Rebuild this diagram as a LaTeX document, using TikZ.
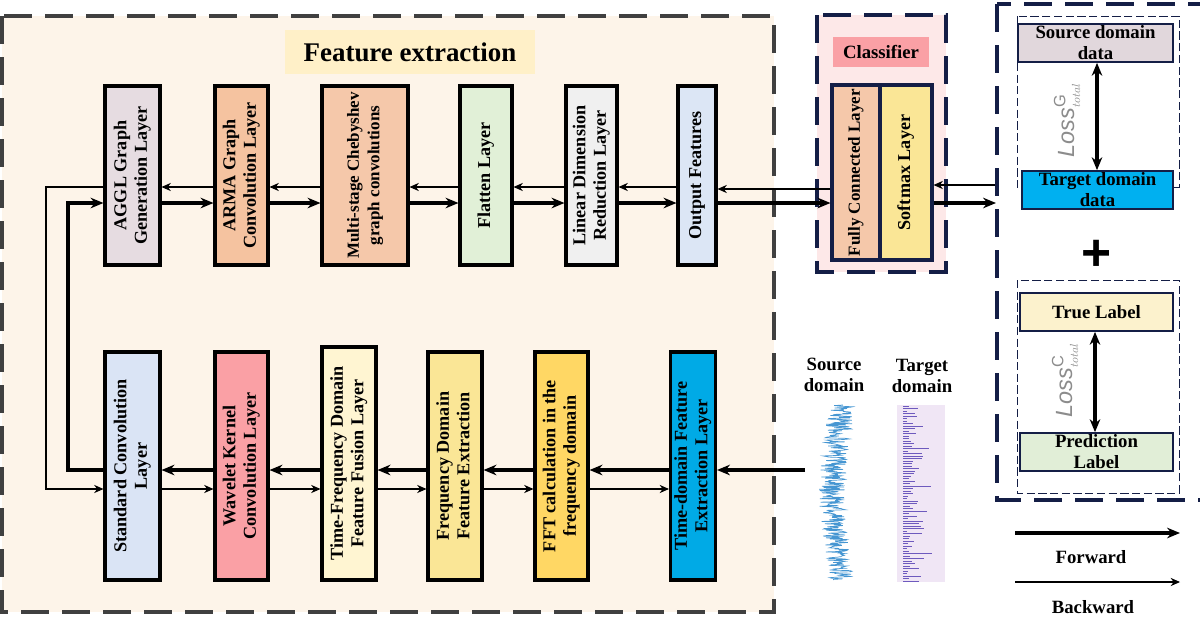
\documentclass[tikz,border=0pt]{standalone}
\usepackage{fontspec}
\setmainfont{Liberation Serif}
\setsansfont{Liberation Sans}
\usetikzlibrary{arrows.meta}
\newcommand{\vtext}[1]{\rotatebox{90}{\begin{tabular}{@{}c@{}}#1\end{tabular}}}
\begin{document}
\begin{tikzpicture}[x=0.03cm,y=-0.03cm,
  layer/.style={shape=rectangle,draw,line width=2.6pt,inner sep=0pt,font=\fontsize{15.5}{17.5}\selectfont\bfseries},
  fwd/.style={-{Stealth[length=11pt,width=9pt]},line width=3.4pt},
  bwd/.style={-{Stealth[length=8pt,width=7pt]},line width=0.9pt},
  bigdash/.style={draw=navy,line width=3.5pt,dash pattern=on 24pt off 11pt},
  smalldash/.style={draw=navy,line width=0.8pt,dash pattern=on 7pt off 3pt},
  tag/.style={shape=rectangle,draw=navy,line width=1.2pt,inner sep=0pt,font=\fontsize{16}{18}\selectfont\bfseries,align=center},
  lbl/.style={font=\fontsize{16}{18}\selectfont\bfseries,align=center}]
    \definecolor{navy}{RGB}{20,30,70}
    \definecolor{fe_bg}{RGB}{253,244,233}
    \definecolor{cls_bg}{RGB}{253,232,232}
    \definecolor{src_sig}{RGB}{70,150,210}
    \definecolor{tgt_bg}{RGB}{240,230,245}
    \definecolor{tgt_sig}{RGB}{110,90,190}
    \useasboundingbox (0,0) rectangle (1200,637);
    % feature extraction frame
    \fill[fe_bg] (2,16) rectangle (774,612);
    \draw[draw=black!75,line width=3.5pt,dash pattern=on 24pt off 11pt] (2,16) rectangle (774,612);
    \node[shape=rectangle,fill={rgb,255:red,255;green,240;blue,200},minimum width=7.5cm,minimum height=1.3cm,font=\fontsize{23}{25}\selectfont\bfseries] (title) at (410,52) {Feature extraction};
    % upper row
    \node[layer,fill={rgb,255:red,230;green,220;blue,225},minimum width=1.65cm,minimum height=5.37cm] (aggl) at (132.5,175.5) {\vtext{AGGL Graph\\Generation Layer}};
    \node[layer,fill={rgb,255:red,245;green,195;blue,160},minimum width=1.59cm,minimum height=5.37cm] (arma) at (241.5,175.5) {\vtext{ARMA Graph\\Convolution Layer}};
    \node[layer,fill={rgb,255:red,245;green,200;blue,170},minimum width=2.58cm,minimum height=5.37cm,font=\fontsize{14.5}{17.5}\selectfont\bfseries] (cheb) at (365,175.5) {\vtext{Multi-stage Chebyshev\\graph convolutions}};
    \node[layer,fill={rgb,255:red,225;green,240;blue,215},minimum width=1.56cm,minimum height=5.37cm] (flat) at (486,175.5) {\vtext{Flatten Layer}};
    \node[layer,fill={rgb,255:red,240;green,240;blue,240},minimum width=1.53cm,minimum height=5.37cm] (lin) at (591.5,175.5) {\vtext{Linear Dimension\\Reduction Layer}};
    \node[layer,fill={rgb,255:red,220;green,230;blue,245},minimum width=1.14cm,minimum height=5.37cm] (outf) at (697,175.5) {\vtext{Output Features}};
    % lower row
    \node[layer,fill={rgb,255:red,218;green,228;blue,245},minimum width=1.65cm,minimum height=6.84cm] (stdc) at (132.5,466) {\vtext{Standard Convolution\\Layer}};
    \node[layer,fill={rgb,255:red,250;green,160;blue,165},minimum width=1.59cm,minimum height=6.84cm] (wav) at (241.5,466) {\vtext{Wavelet Kernel\\Convolution Layer}};
    \node[layer,fill={rgb,255:red,255;green,245;blue,210},minimum width=1.62cm,minimum height=6.99cm] (tff) at (349,463.5) {\vtext{Time-Frequency Domain\\Feature Fusion Layer}};
    \node[layer,fill={rgb,255:red,250;green,230;blue,150},minimum width=1.62cm,minimum height=6.84cm] (freq) at (455,466) {\vtext{Frequency Domain\\Feature Extraction}};
    \node[layer,fill={rgb,255:red,255;green,215;blue,100},minimum width=1.59cm,minimum height=6.84cm] (fft) at (561.5,466) {\vtext{FFT calculation in the\\frequency domain}};
    \node[layer,fill={rgb,255:red,0;green,170;blue,230},minimum width=1.35cm,minimum height=6.84cm] (tdom) at (693,466) {\vtext{Time-domain Feature\\Extraction Layer}};
    % row levels
    \coordinate (topF) at (0,203);
    \coordinate (topB) at (0,187);
    \coordinate (botF) at (0,470);
    \coordinate (botB) at (0,489);
    \coordinate (sig) at (805,470);
    % forward path
    \draw[fwd] (sig) -- (tdom.east |- botF);
    \draw[fwd] (tdom.west |- botF) -- (fft.east |- botF);
    \draw[fwd] (fft.west |- botF) -- (freq.east |- botF);
    \draw[fwd] (freq.west |- botF) -- (tff.east |- botF);
    \draw[fwd] (tff.west |- botF) -- (wav.east |- botF);
    \draw[fwd] (wav.west |- botF) -- (stdc.east |- botF);
    \draw[fwd] (stdc.west |- botF) -| (68,203) -- (aggl.west |- topF);
    \draw[fwd] (aggl.east |- topF) -- (arma.west |- topF);
    \draw[fwd] (arma.east |- topF) -- (cheb.west |- topF);
    \draw[fwd] (cheb.east |- topF) -- (flat.west |- topF);
    \draw[fwd] (flat.east |- topF) -- (lin.west |- topF);
    \draw[fwd] (lin.east |- topF) -- (outf.west |- topF);
    % backward path
    \draw[bwd] (outf.west |- topB) -- (lin.east |- topB);
    \draw[bwd] (lin.west |- topB) -- (flat.east |- topB);
    \draw[bwd] (flat.west |- topB) -- (cheb.east |- topB);
    \draw[bwd] (cheb.west |- topB) -- (arma.east |- topB);
    \draw[bwd] (arma.west |- topB) -- (aggl.east |- topB);
    \draw[bwd] (aggl.west |- topB) -| (46,489) -- (stdc.west |- botB);
    \draw[bwd] (stdc.east |- botB) -- (wav.west |- botB);
    \draw[bwd] (wav.east |- botB) -- (tff.west |- botB);
    \draw[bwd] (tff.east |- botB) -- (freq.west |- botB);
    \draw[bwd] (freq.east |- botB) -- (fft.west |- botB);
    \draw[bwd] (fft.east |- botB) -- (tdom.west |- botB);
    % classifier
    \fill[cls_bg] (817,15) rectangle (946,272);
    \draw[bigdash] (817,15) rectangle (946,272);
    \node[shape=rectangle,fill={rgb,255:red,250;green,160;blue,165},minimum width=2.9cm,minimum height=0.9cm,font=\fontsize{16}{18}\selectfont\bfseries] (clsname) at (881,52) {Classifier};
    \node[layer,draw=navy,fill={rgb,255:red,245;green,200;blue,170},minimum width=1.44cm,minimum height=5.25cm,font=\fontsize{14.5}{17}\selectfont\bfseries] (fc) at (856,172.5) {\vtext{Fully Connected Layer}};
    \node[layer,draw=navy,fill={rgb,255:red,250;green,230;blue,150},minimum width=1.56cm,minimum height=5.25cm] (soft) at (906,172.5) {\vtext{Softmax Layer}};
    \draw[fwd] (outf.east |- topF) -- (fc.west |- topF);
    \draw[bwd] (fc.west |- 0,189) -- (outf.east |- 0,189);
    \coordinate (lossin) at (996,203);
    \coordinate (lossout) at (996,185);
    \draw[fwd] (soft.east |- topF) -- (lossin);
    \draw[bwd] (lossout) -- (soft.east |- lossout);
    % loss frame
    \draw[bigdash] (997,4) rectangle (1205,500);
    \draw[smalldash] (1017,16) rectangle (1179,187);
    \draw[smalldash] (1017,280) rectangle (1179,493);
    \node[tag,fill={rgb,255:red,225;green,215;blue,220},minimum width=4.65cm,minimum height=1.15cm] (srcd) at (1095.5,43) {Source domain\\data};
    \node[tag,fill={rgb,255:red,0;green,176;blue,240},minimum width=4.53cm,minimum height=1.15cm] (tgtd) at (1097.5,190) {Target domain\\data};
    \draw[fwd,{Stealth[length=11pt,width=9pt]}-{Stealth[length=11pt,width=9pt]}] (srcd.south -| 1097,0) -- (tgtd.north -| 1097,0);
    \node[rotate=90,text=black!45,font=\fontsize{20}{22}\selectfont\sffamily\itshape] (lossg) at (1067,120) {Loss$^{\mathsf{G}}_{\scriptscriptstyle total}$};
    \node[font=\fontsize{44}{44}\selectfont\bfseries\sffamily] (plus) at (1097,255) {+};
    \node[tag,fill={rgb,255:red,252;green,242;blue,205},minimum width=4.59cm,minimum height=1.15cm] (truel) at (1096.5,312) {True Label};
    \node[tag,fill={rgb,255:red,225;green,238;blue,215},minimum width=4.59cm,minimum height=1.15cm] (predl) at (1096.5,452) {Prediction\\Label};
    \draw[fwd,{Stealth[length=11pt,width=9pt]}-{Stealth[length=11pt,width=9pt]}] (truel.south -| 1095,0) -- (predl.north -| 1095,0);
    \node[rotate=90,text=black!45,font=\fontsize{20}{22}\selectfont\sffamily\itshape] (lossc) at (1065,380) {Loss$^{\mathsf{C}}_{\scriptscriptstyle total}$};
    % signals
    \node[lbl] (srclab) at (834,375) {Source\\domain};
    \node[lbl] (tgtlab) at (922,376) {Target\\domain};
    \pgfmathsetseed{7}
    \draw[src_sig,line width=0.6pt] plot[domain=405:580,samples=300] ({836+4*sin(\x*2)+13*rand},\x);
    \fill[tgt_bg] (897,405) rectangle (945,582);
    \foreach \k in {0,...,70} {
      \pgfmathsetmacro{\yy}{406+2.5*\k}
      \pgfmathsetmacro{\ll}{4+30*rnd*rnd}
      \draw[tgt_sig,line width=0.5pt] (903,\yy) -- ++(\ll,0);
    }
    % legend
    \coordinate (fa) at (1015,533);
    \coordinate (fb) at (1180,533);
    \coordinate (ba) at (1015,582);
    \coordinate (bb) at (1180,582);
    \draw[fwd] (fa) -- (fb);
    \draw[bwd] (ba) -- (bb);
    \node[lbl] (fwdlab) at (1091,557) {Forward};
    \node[lbl] (bwdlab) at (1093,607) {Backward};
\end{tikzpicture}
\end{document}
